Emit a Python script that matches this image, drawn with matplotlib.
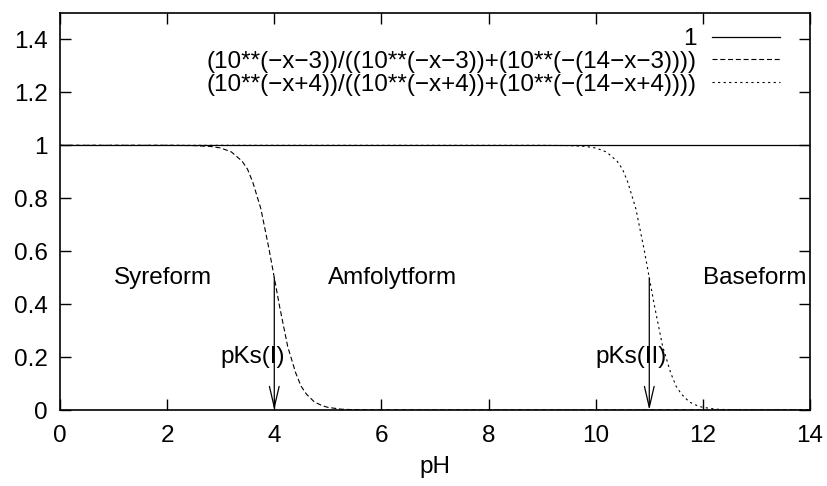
import matplotlib
matplotlib.use("Agg")
import matplotlib.pyplot as plt

plt.rcParams['font.family'] = ['Liberation Sans', 'DejaVu Sans']

# Data
const_x = [0, 14]
const_y = [1, 1]

acid_x = [0, 2.0, 2.5, 2.8, 3.0, 3.2, 3.4, 3.5, 3.6, 3.75, 3.9, 4.0, 4.1, 4.25, 4.4, 4.5, 4.6, 4.75, 4.9, 5.0, 5.25, 5.5, 6.0, 14]
acid_y = [1, 1.0, 0.999, 0.996, 0.99, 0.975, 0.94, 0.91, 0.86, 0.76, 0.61, 0.5, 0.39, 0.24, 0.14, 0.09, 0.06, 0.03, 0.016, 0.01, 0.003, 0.001, 0.0, 0]

base_x = [0, 9.0, 9.5, 9.8, 10.0, 10.2, 10.4, 10.5, 10.6, 10.75, 10.9, 11.0, 11.1, 11.25, 11.4, 11.5, 11.6, 11.75, 11.9, 12.0, 12.25, 12.5, 13.0, 14]
base_y = [1, 1.0, 0.999, 0.996, 0.99, 0.975, 0.94, 0.91, 0.86, 0.76, 0.61, 0.5, 0.39, 0.24, 0.14, 0.09, 0.06, 0.03, 0.016, 0.01, 0.003, 0.001, 0.0, 0]

legend_labels = ["1",
                 "(10**(\u2212x\u22123))/((10**(\u2212x\u22123))+(10**(\u2212(14\u2212x\u22123))))",
                 "(10**(\u2212x+4))/((10**(\u2212x+4))+(10**(\u2212(14\u2212x+4))))"]

region_labels = ["Syreform", "Amfolytform", "Baseform"]
region_x = [1.0, 5.0, 12.0]
region_y = [0.5, 0.5, 0.5]

pk_labels = ["pKs(I)", "pKs(II)"]
pk_values = [4, 11]
pk_label_x = [3.0, 10.0]
pk_label_y = [0.2, 0.2]
arrow_top = 0.5

xticks = [0, 2, 4, 6, 8, 10, 12, 14]
yticks = [0, 0.2, 0.4, 0.6, 0.8, 1, 1.2, 1.4]
ytick_labels = ["0", "0.2", "0.4", "0.6", "0.8", "1", "1.2", "1.4"]

FS = 17.5

fig = plt.figure(figsize=(8.28, 4.86), dpi=100)
ax = fig.add_axes([60/828, 1-410/486, 750/828, 397/486])

l1, = ax.plot(const_x, const_y, color='black', lw=0.9)
l2, = ax.plot(acid_x, acid_y, color='black', lw=0.8, dashes=(4.5, 2.5))
l3, = ax.plot(base_x, base_y, color='black', lw=0.8, dashes=(2, 3))

ax.set_xlim(0, 14)
ax.set_ylim(0, 1.5)
ax.set_xticks(xticks)
ax.set_xticklabels([str(t) for t in xticks])
ax.set_yticks(yticks)
ax.set_yticklabels(ytick_labels)
ax.tick_params(axis='x', pad=11)
ax.tick_params(axis='y', pad=9)
ax.tick_params(direction='in', length=8, width=1, top=True, right=True,
               labelsize=FS, colors='black')
for s in ax.spines.values():
    s.set_linewidth(1.2)
ax.set_xlabel("pH", fontsize=FS, labelpad=6)

for lab, x, y in zip(region_labels, region_x, region_y):
    ax.text(x, y, lab, fontsize=FS, ha='left', va='center')

for lab, pk, lx, ly in zip(pk_labels, pk_values, pk_label_x, pk_label_y):
    ax.text(lx, ly, lab, fontsize=FS, ha='left', va='center')
    ax.annotate("", xy=(pk, 0), xytext=(pk, arrow_top),
                arrowprops=dict(arrowstyle='->,head_length=1.5,head_width=0.35',
                                mutation_scale=10, color='black', lw=0.9,
                                shrinkA=0, shrinkB=0))

leg = ax.legend([l1, l2, l3], legend_labels, loc='upper right',
                bbox_to_anchor=(0.96, 0.962), frameon=False, fontsize=FS,
                markerfirst=False, handlelength=2.8, handletextpad=0.62,
                labelspacing=0.03, borderaxespad=0.0, borderpad=0.0)
for t in leg.get_texts():
    t.set_ha('right')

fig.savefig("out.png", dpi=100)
